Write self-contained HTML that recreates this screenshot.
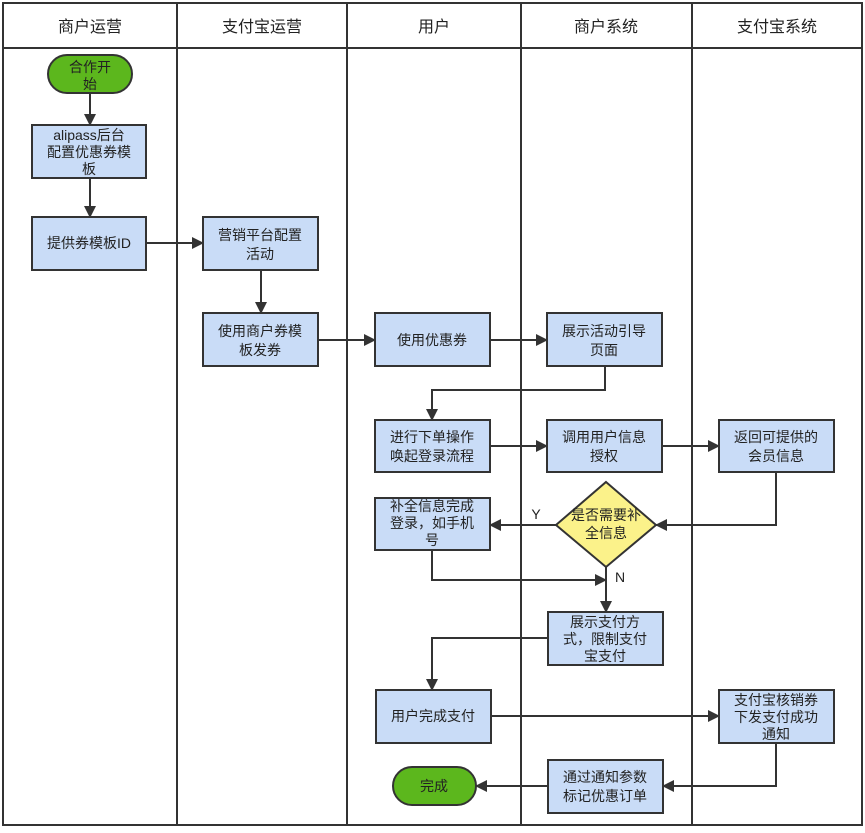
<!DOCTYPE html>
<html><head><meta charset="utf-8"><style>
body{margin:0;background:#fff;}
svg text{font-family:"Liberation Sans","Noto Sans CJK SC",sans-serif;fill:#222;}
</style></head><body>
<svg width="865" height="828" viewBox="0 0 865 828" xmlns="http://www.w3.org/2000/svg">
<defs><marker id="a" markerWidth="12" markerHeight="12" refX="11" refY="6" orient="auto" markerUnits="userSpaceOnUse"><path d="M0,0 L12,6 L0,12 z" fill="#333"/></marker></defs>
<g stroke="#333" stroke-width="2" fill="none">
<rect x="3" y="3" width="859" height="822"/>
<line x1="3" y1="48" x2="862" y2="48"/>
<line x1="177" y1="3" x2="177" y2="825"/>
<line x1="347" y1="3" x2="347" y2="825"/>
<line x1="521" y1="3" x2="521" y2="825"/>
<line x1="692" y1="3" x2="692" y2="825"/>
</g>
<g font-size="16" text-anchor="middle">
<text x="90" y="32">商户运营</text><text x="262" y="32">支付宝运营</text><text x="434" y="32">用户</text><text x="606" y="32">商户系统</text><text x="777" y="32">支付宝系统</text>
</g>
<g stroke="#333" stroke-width="2" fill="none" marker-end="url(#a)">
<path d="M90,93V125"/><path d="M90,178V217"/><path d="M146,243H203"/><path d="M261,270V313"/>
<path d="M318,340H375"/><path d="M490,340H547"/><path d="M605,366V390H432V420"/>
<path d="M490,446H547"/><path d="M662,446H719"/><path d="M776,472V525H656"/>
<path d="M556,525H490"/><path d="M432,550V580H606"/><path d="M606,567V612"/>
<path d="M548,638H432V690"/><path d="M491,716H719"/><path d="M776,743V786H663"/><path d="M548,786H476"/>
</g>
<g stroke="#333" stroke-width="2">
<rect x="48" y="55" width="84" height="38" rx="19" fill="#5cb71d"/>
<rect x="393" y="767" width="83" height="38" rx="19" fill="#5cb71d"/>
<g fill="#c9dcf7">
<rect x="32" y="125" width="114" height="53"/><rect x="32" y="217" width="114" height="53"/>
<rect x="203" y="217" width="115" height="53"/><rect x="203" y="313" width="115" height="53"/>
<rect x="375" y="313" width="115" height="53"/><rect x="547" y="313" width="115" height="53"/>
<rect x="375" y="420" width="115" height="52"/><rect x="547" y="420" width="115" height="52"/>
<rect x="719" y="420" width="115" height="52"/><rect x="375" y="498" width="115" height="52"/>
<rect x="548" y="612" width="115" height="53"/><rect x="376" y="690" width="115" height="53"/>
<rect x="719" y="690" width="115" height="53"/><rect x="548" y="760" width="115" height="53"/>
</g>
<path d="M606,482 L656,525 L606,567 L556,525 Z" fill="#fbf28a"/>
</g>
<g font-size="14" text-anchor="middle">
<text x="90" y="72">合作开</text><text x="90" y="89">始</text>
<text x="89" y="140">alipass后台</text><text x="89" y="157">配置优惠券模</text><text x="89" y="174">板</text>
<text x="89" y="248">提供券模板ID</text>
<text x="260" y="240">营销平台配置</text><text x="260" y="259">活动</text>
<text x="260" y="336">使用商户券模</text><text x="260" y="355">板发券</text>
<text x="432" y="345">使用优惠券</text>
<text x="604" y="336">展示活动引导</text><text x="604" y="355">页面</text>
<text x="432" y="442">进行下单操作</text><text x="432" y="461">唤起登录流程</text>
<text x="604" y="442">调用用户信息</text><text x="604" y="461">授权</text>
<text x="776" y="442">返回可提供的</text><text x="776" y="461">会员信息</text>
<text x="432" y="511">补全信息完成</text><text x="432" y="528">登录，如手机</text><text x="432" y="545">号</text>
<text x="606" y="520">是否需要补</text><text x="606" y="538">全信息</text>
<text x="536" y="519">Y</text><text x="620" y="582">N</text>
<text x="605" y="627">展示支付方</text><text x="605" y="644">式，限制支付</text><text x="605" y="661">宝支付</text>
<text x="433" y="721">用户完成支付</text>
<text x="776" y="705">支付宝核销券</text><text x="776" y="722">下发支付成功</text><text x="776" y="739">通知</text>
<text x="605" y="782">通过通知参数</text><text x="605" y="801">标记优惠订单</text>
<text x="434" y="791">完成</text>
</g>
</svg>
</body></html>
